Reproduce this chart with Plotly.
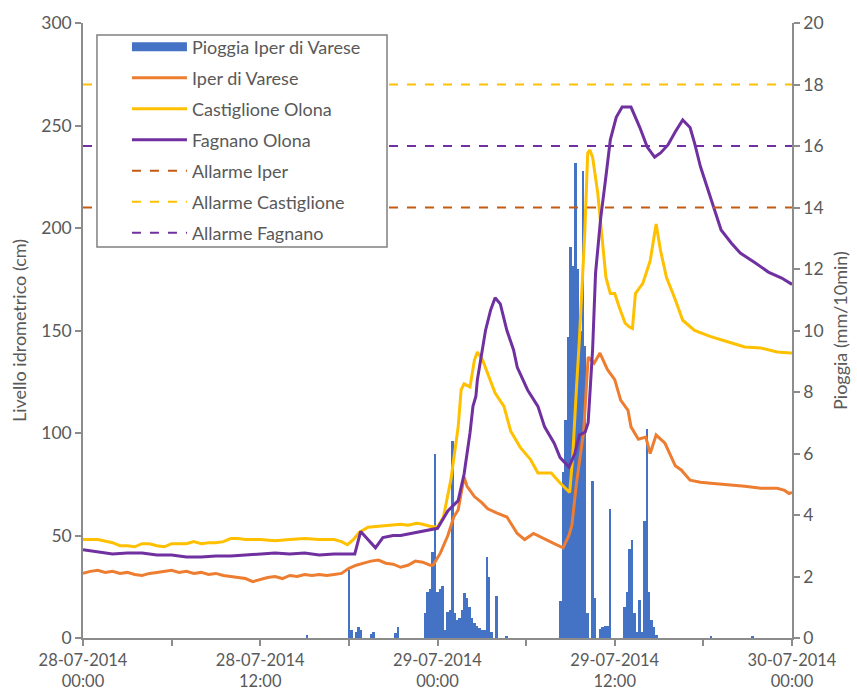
import pandas as pd
import plotly.graph_objects as go

# ---------------- data ----------------
START = "2014-07-28 00:00"

# rain (10-minute slots since start, mm/10min)
rain_slot = [91, 108, 109, 111, 112, 113, 117, 118, 127, 128,
             139, 140, 141, 142, 143, 144, 145, 146, 147, 148, 149, 150,
             151, 152, 153, 154, 155, 156, 157, 158, 159, 160, 161, 162, 163,
             164, 165, 166, 168, 172,
             194, 195, 196, 197, 198, 199, 200, 201, 202, 203, 204, 205,
             207, 208, 210, 211, 212, 213, 214,
             220, 221, 222, 223, 224, 225, 226, 227, 228, 229, 230, 231, 232, 233,
             255, 272]
rain_mm = [0.1, 2.2, 0.25, 0.2, 0.35, 0.25, 0.12, 0.2, 0.15, 0.35,
           0.8, 1.5, 1.6, 2.8, 6.0, 1.5, 1.6, 1.7, 0.25, 0.85, 0.9, 6.4,
           0.8, 0.6, 0.65, 0.9, 1.45, 1.3, 1.0, 0.65, 0.5, 0.4, 0.33, 0.26, 0.26,
           2.65, 2.0, 0.2, 1.35, 0.05,
           1.2, 5.4, 7.1, 9.8, 12.7, 12.1, 15.45, 12.0, 10.0, 15.2, 9.5, 0.8,
           5.1, 1.3, 0.3, 0.35, 0.4, 0.4, 4.2,
           1.0, 1.5, 2.9, 3.2, 0.8, 0.2, 1.24, 0.2, 3.8, 6.8, 1.5, 0.6, 0.35, 0.1,
           0.08, 0.08]

# Iper di Varese level (hours since start, cm)
iper_h = [0, 0.5, 1, 1.5, 2, 2.5, 3, 3.5, 4, 4.5, 5, 5.5, 6, 6.5, 7, 7.5, 8, 8.5,
          9, 9.5, 10, 10.5, 11, 11.5, 12, 12.5, 13, 13.5, 14, 14.5, 15, 15.5, 16,
          16.5, 17, 17.5, 18, 18.5, 19, 19.5, 20, 20.5, 21, 21.5, 22, 22.5, 23,
          23.5, 23.7, 24.2, 24.7, 25.1, 25.4, 25.8, 26.0, 26.5, 27.0, 27.4, 28.0,
          28.7, 29.4, 29.9, 30.5, 31.3, 31.9, 32.5, 32.9, 33.1, 33.4, 33.9, 34.2,
          34.6, 35.0, 35.5, 36.0, 36.4, 36.9, 37.1, 37.6, 38.1, 38.4, 38.8, 39.4,
          40.1, 40.5, 41.1, 41.8, 42.5, 43.5, 44.8, 45.9, 47.0, 47.5, 47.8, 48]
iper_v = [31.5, 32.5, 33, 32, 32.5, 31.5, 32, 31, 30.5, 31.5, 32, 32.5, 33, 32,
          32.5, 31.5, 32, 31, 31.5, 30.5, 30, 29.5, 29, 27.5, 28.5, 29.5, 30, 29,
          30.5, 30, 31, 30.5, 31, 30.5, 31, 31.5, 34, 35.5, 36.5, 37.5, 38, 36.5,
          36, 34.5, 35.5, 37.5, 37, 35.5, 35.5, 41.5, 50, 59, 62.5, 78.5, 74, 69,
          66, 63, 61, 59, 51, 48, 51, 48, 46, 44, 50, 55, 75, 101, 137, 134, 139,
          131, 126, 116, 111, 103, 97, 98, 90, 99, 95, 84, 82, 77, 76, 75.5, 75,
          74, 73, 73, 72, 70.5, 71]

# Castiglione Olona level
cast_h = [0, 1, 2, 2.5, 3, 3.5, 4, 4.5, 5, 5.5, 6, 6.5, 7, 7.5, 8, 8.5, 9, 9.5,
          10, 10.5, 11, 12, 13, 14, 15, 16, 17, 17.5, 17.9, 18.3, 18.7, 19.3, 20,
          20.5, 21, 21.5, 22, 22.6, 23, 23.5, 24, 24.4, 24.9, 25.4, 25.6, 25.8,
          26.2, 26.5, 26.7, 27.05, 27.9, 28.5, 28.95, 29.6, 30.3, 30.8, 31.7, 32.3,
          32.95, 33.15, 33.4, 33.6, 33.97, 34.17, 34.31, 34.5, 34.85, 35.2, 35.4,
          35.7, 36.0, 36.3, 36.7, 37.0, 37.2, 37.4, 37.9, 38.4, 38.8, 39.1, 39.5,
          40.1, 40.6, 41.4, 42.5, 43.7, 44.8, 45.9, 47.0, 47.9, 48]
cast_v = [48, 48, 46.5, 45, 45, 44.5, 46, 46, 45, 44.5, 46, 46, 46, 47, 46, 46.5,
          46.5, 47, 48.5, 48.5, 48, 48, 47.5, 48, 48.5, 48, 48, 47, 45.5, 48, 51.5,
          54, 54.5, 54.5, 55, 55.5, 55, 56, 55.5, 54.5, 54, 59, 77, 103, 121, 124,
          122.5, 135.6, 139.5, 135.6, 119.5, 113, 101, 93, 87, 80.5, 80.5, 75.6, 71,
          88, 121, 145, 197.6, 236.6, 238, 234.6, 217, 189, 176, 168, 168, 161.5,
          153.6, 151.7, 151, 168, 173, 184, 202, 189, 176, 165, 155, 150, 147,
          144.4, 142, 141.5, 139.5, 139, 139]

# Fagnano Olona level
fagn_h = [0, 1, 2, 3, 4, 5, 6, 7, 8, 9, 10, 11, 12, 13, 14, 15, 16, 17, 18, 18.4,
          18.8, 19.3, 19.8, 20.3, 21, 21.5, 22.2, 22.6, 23.1, 24, 24.7, 25.4, 25.8,
          26.2, 26.4, 26.6, 26.7, 27.05, 27.25, 27.6, 27.9, 28.25, 28.7, 29.15,
          29.4, 30.1, 30.8, 31.25, 31.9, 32.3, 32.9, 33.3, 33.6, 34.0, 34.2, 34.4,
          34.5, 34.7, 35.05, 35.4, 35.7, 36.1, 36.5, 37.1, 37.7, 38.2, 38.7, 39.1,
          39.6, 40.1, 40.6, 41.1, 41.4, 41.8, 42.3, 42.8, 43.2, 43.9, 44.5, 45.5,
          46.4, 47.3, 47.9, 48]
fagn_v = [43, 42, 41, 41.5, 41.5, 40.5, 40.5, 39.5, 39.5, 40, 40, 40.5, 41, 41.5,
          41, 41.5, 40.5, 41, 41, 41, 52, 48, 44, 49, 50, 50, 51, 51.5, 52, 53.5,
          62, 67, 80, 100, 113, 118, 126, 140.5, 150, 160, 166, 163, 150, 140.5,
          132, 121, 113, 103, 95, 88, 83.4, 90, 99, 100.5, 105, 129, 140.5, 178,
          205, 225, 243, 254, 259, 259, 249, 239.5, 234.6, 236.6, 240.5, 247, 252.7,
          249, 241.5, 230, 218.5, 207, 199, 192.6, 187.8, 183, 178.5, 175.6, 173,
          172.5]

# alarm thresholds (cm)
allarme_iper = 210
allarme_castiglione = 270
allarme_fagnano = 240

# x-axis ticks (hours since start) and labels
tick_h = [0, 6, 12, 18, 24, 30, 36, 42, 48]
tick_lbl = ["28-07-2014<br>00:00", "", "28-07-2014<br>12:00", "",
            "29-07-2014<br>00:00", "", "29-07-2014<br>12:00", "",
            "30-07-2014<br>00:00"]

# ---------------- figure ----------------
t0 = pd.Timestamp(START)
def th(hours):
    return [t0 + pd.Timedelta(hours=h) for h in hours]

rain_t = [t0 + pd.Timedelta(minutes=10 * s) for s in rain_slot]
x_end = [t0, t0 + pd.Timedelta(hours=48)]

FONT = "Lato"
GREY = "#595959"
AX = "#8c8c8c"
LEG_FS = 18

fig = go.Figure()
fig.add_trace(go.Bar(x=rain_t, y=rain_mm, name="Pioggia Iper di Varese",
                     marker=dict(color="#4472C4", line=dict(width=0)),
                     width=600000, yaxis="y", showlegend=False))
# legend proxy for the rain bars (wide rectangle like the original)
fig.add_trace(go.Scatter(x=[None], y=[None], name="Pioggia Iper di Varese", mode="lines",
                         line=dict(color="#4472C4", width=9), yaxis="y2", legendgroup="a"))
fig.add_trace(go.Scatter(x=th(iper_h), y=iper_v, name="Iper di Varese", mode="lines",
                         line=dict(color="#ED7D31", width=3), yaxis="y2", legendgroup="b"))
fig.add_trace(go.Scatter(x=th(cast_h), y=cast_v, name="Castiglione Olona", mode="lines",
                         line=dict(color="#FFC000", width=3), yaxis="y2", legendgroup="c"))
fig.add_trace(go.Scatter(x=th(fagn_h), y=fagn_v, name="Fagnano Olona", mode="lines",
                         line=dict(color="#7030A0", width=3), yaxis="y2", legendgroup="d"))
fig.add_trace(go.Scatter(x=x_end, y=[allarme_iper] * 2, name="Allarme Iper", mode="lines",
                         line=dict(color="#C55A11", width=2, dash="dash"), yaxis="y2", legendgroup="e"))
fig.add_trace(go.Scatter(x=x_end, y=[allarme_castiglione] * 2, name="Allarme Castiglione", mode="lines",
                         line=dict(color="#FFC000", width=2, dash="dash"), yaxis="y2", legendgroup="f"))
fig.add_trace(go.Scatter(x=x_end, y=[allarme_fagnano] * 2, name="Allarme Fagnano", mode="lines",
                         line=dict(color="#7030A0", width=2, dash="dash"), yaxis="y2", legendgroup="g"))

axis_common = dict(showgrid=False, zeroline=False, showline=True, linecolor=AX, linewidth=1.5,
                   ticks="outside", ticklen=6, tickcolor=AX, tickwidth=1.5, automargin=False)

fig.update_layout(
    width=857, height=693,
    margin=dict(l=83, r=65, t=23, b=55, autoexpand=False),
    paper_bgcolor="white", plot_bgcolor="white",
    font=dict(family=FONT, size=16, color=GREY),
    bargap=0,
    showlegend=True,
    legend=dict(x=0.062, y=0.991, xanchor="left", yanchor="top",
                bgcolor="rgba(0,0,0,0)", borderwidth=0,
                font=dict(family=FONT, size=LEG_FS, color=GREY),
                tracegroupgap=4.6, itemwidth=55, traceorder="grouped"),
    shapes=[dict(type="rect", xref="paper", yref="paper", x0=0.0197, x1=0.4288,
                 y0=0.6358, y1=0.9805, fillcolor="white",
                 line=dict(color="#808080", width=1.5), layer="above")],
    xaxis=dict(type="date", range=x_end, tickvals=th(tick_h), ticktext=tick_lbl,
               tickfont=dict(family=FONT, size=16.5, color=GREY), **axis_common),
    yaxis=dict(range=[0, 20], dtick=2, side="right",
               title=dict(text="Pioggia (mm/10min)", standoff=12,
                          font=dict(family=FONT, size=18, color=GREY)),
               tickfont=dict(family=FONT, size=17.5, color=GREY), **axis_common),
    yaxis2=dict(range=[0, 300], dtick=50, side="left", overlaying="y",
                title=dict(text="Livello idrometrico (cm)", standoff=10,
                           font=dict(family=FONT, size=18, color=GREY)),
                tickfont=dict(family=FONT, size=17.5, color=GREY), **axis_common),
)

fig.write_html("out.html")
